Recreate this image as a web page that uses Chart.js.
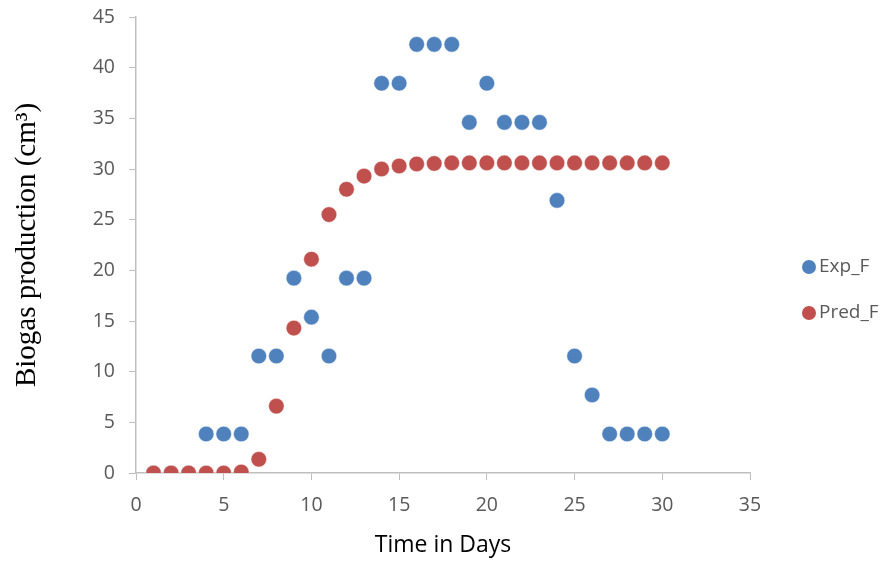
<!DOCTYPE html>
<html>
<head>
<meta charset="utf-8">
<script src="https://cdn.jsdelivr.net/npm/chart.js@4"></script>
<style>
  html, body { margin: 0; padding: 0; background: #fff; }
  #wrap { width: 895px; height: 563px; position: relative; }
</style>
</head>
<body>
<div id="wrap"><canvas id="biogas"></canvas></div>
<script>
// Biogas production, experimental vs predicted
const days = [1,2,3,4,5,6,7,8,9,10,11,12,13,14,15,16,17,18,19,20,21,22,23,24,25,26,27,28,29,30];
const expF = [0,0,0,3.85,3.85,3.85,11.54,11.54,19.23,15.38,11.54,19.23,19.23,38.46,38.46,42.3,42.3,42.3,34.6,38.46,34.6,34.6,34.6,26.9,11.54,7.7,3.85,3.85,3.85,3.85];
const predF = [0,0,0,0,0,0.1,1.35,6.6,14.3,21.1,25.5,28.0,29.3,30.0,30.3,30.5,30.55,30.6,30.6,30.6,30.6,30.6,30.6,30.6,30.6,30.6,30.6,30.6,30.6,30.6];
const seriesNames = ['Exp_F', 'Pred_F'];
const seriesColors = ['#4f81bd', '#c0504d'];

const toPoints = vals => vals.map((v, i) => ({ x: days[i], y: v }));

const tickFont = { family: 'Open Sans', size: 19.5 };
const axisGrey = '#bfbfbf';
const textGrey = '#595959';

// legend drawn at the right like the original
const sideLegend = {
  id: 'sideLegend',
  afterDraw(chart) {
    const ctx = chart.ctx;
    ctx.save();
    ctx.font = '19px "Open Sans"';
    ctx.textBaseline = 'middle';
    chart.data.datasets.forEach((ds, i) => {
      const y = 267 + i * 46;
      ctx.beginPath();
      ctx.arc(809, y, 7, 0, Math.PI * 2);
      ctx.fillStyle = ds.backgroundColor;
      ctx.fill();
      ctx.fillStyle = textGrey;
      ctx.fillText(ds.label, 819, y);
    });
    ctx.restore();
  }
};

new Chart(document.getElementById('biogas'), {
  type: 'scatter',
  data: {
    datasets: [
      { label: seriesNames[0], data: toPoints(expF), backgroundColor: seriesColors[0], borderColor: '#ffffff', borderWidth: 0.5, pointRadius: 7.8, order: 1 },
      { label: seriesNames[1], data: toPoints(predF), backgroundColor: seriesColors[1], borderColor: '#ffffff', borderWidth: 0.5, pointRadius: 7.8, order: 0 }
    ]
  },
  options: {
    responsive: true,
    maintainAspectRatio: false,
    animation: false,
    layout: { padding: { top: 17, right: 145, left: 0, bottom: 0 } },
    plugins: { legend: { display: false }, tooltip: { enabled: false } },
    scales: {
      x: {
        type: 'linear', min: 0, max: 35,
        ticks: { stepSize: 5, color: textGrey, font: tickFont, padding: 14 },
        grid: { drawOnChartArea: false, tickLength: 7, color: axisGrey },
        border: { color: axisGrey, width: 1.5 },
        title: { display: true, text: 'Time in Days', color: '#000', font: { family: 'Open Sans', size: 23 }, padding: { top: 0 } },
        afterFit(scale) { scale.height = 90; }
      },
      y: {
        min: 0, max: 45,
        ticks: { stepSize: 5, color: textGrey, font: tickFont, padding: 14 },
        grid: { drawOnChartArea: false, tickLength: 7, color: axisGrey },
        border: { color: axisGrey, width: 1.5 },
        title: { display: true, text: 'Biogas production (cm³)', color: '#000', font: { family: 'Liberation Serif', size: 29 }, padding: { top: 10, bottom: 0 } },
        afterFit(scale) { scale.width = 136; scale.paddingTop = 0; }
      }
    }
  },
  plugins: [sideLegend]
});
</script>
</body>
</html>
